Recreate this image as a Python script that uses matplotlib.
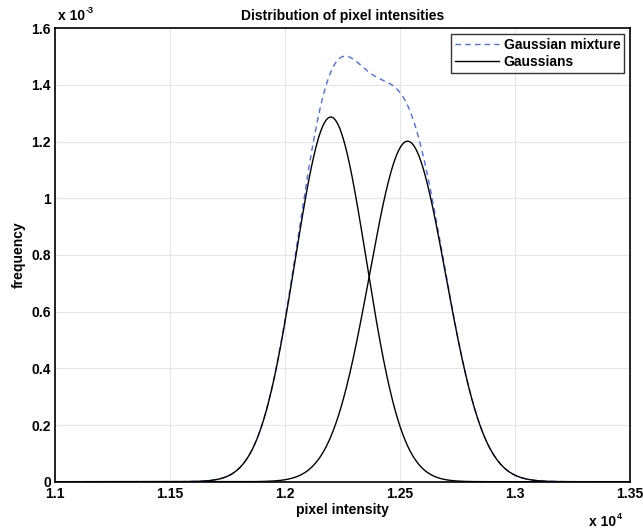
"""Distribution of pixel intensities: two-component Gaussian mixture."""

import numpy as np
import matplotlib
matplotlib.use("Agg")
import matplotlib.pyplot as plt

# mixture components (pixel-intensity units)
comp_means = [12199.0, 12533.0]
comp_sigmas = [155.0, 166.0]
comp_weights = [0.5, 0.5]

x_ticks = [1.1, 1.15, 1.2, 1.25, 1.3, 1.35]
y_ticks = [0, 0.2, 0.4, 0.6, 0.8, 1.0, 1.2, 1.4, 1.6]
x_labels = ["1.1", "1.15", "1.2", "1.25", "1.3", "1.35"]
y_labels = ["0", "0.2", "0.4", "0.6", "0.8", "1", "1.2", "1.4", "1.6"]

plt.rcParams["font.family"] = ["Liberation Sans", "DejaVu Sans"]
plt.rcParams["font.weight"] = "bold"

xs = np.linspace(11000, 13500, 1200)
comps = [w / (s * np.sqrt(2 * np.pi)) * np.exp(-0.5 * ((xs - m) / s) ** 2)
         for m, s, w in zip(comp_means, comp_sigmas, comp_weights)]
mix = sum(comps)

fig = plt.figure(figsize=(6.43, 5.31), dpi=100)
ax = fig.add_axes([55 / 643, 1 - 481.7 / 531, 575 / 643, 453.4 / 531])

ax.plot(xs / 1e4, mix * 1e3, color="#4a6cff", ls=(0, (4, 3)), lw=1.0, label="Gaussian mixture")
for i, c in enumerate(comps):
    ax.plot(xs / 1e4, c * 1e3, color="black", lw=1.0, label="Gaussians" if i == 0 else None)

ax.set_xlim(1.1, 1.35)
ax.set_ylim(0, 1.6)
ax.set_xticks(x_ticks)
ax.set_xticklabels(x_labels)
ax.set_yticks(y_ticks)
ax.set_yticklabels(y_labels)
ax.tick_params(direction="in", length=0, labelsize=10, pad=3)
ax.tick_params(axis="x", pad=4)
ax.grid(True, color="#e6e6e6", lw=0.8)
ax.set_axisbelow(True)
for sp in ax.spines.values():
    sp.set_linewidth(1.2)
    sp.set_color("black")

ax.set_title("Distribution of pixel intensities", fontsize=10, fontweight="bold", pad=6)
ax.set_xlabel("pixel intensity", fontsize=10, fontweight="bold", labelpad=1)
ax.set_ylabel("frequency", fontsize=10, fontweight="bold", labelpad=4)

# exponent labels, MATLAB style
t = ax.annotate("x 10", xy=(0.0, 1.0), xycoords="axes fraction", xytext=(2, 4),
                textcoords="offset points", fontsize=10, fontweight="bold",
                ha="left", va="bottom")
ax.annotate("-3", xy=(1.0, 0.55), xycoords=t, xytext=(0.5, 0), textcoords="offset points",
            fontsize=6.5, fontweight="bold", ha="left", va="bottom")
t2 = ax.annotate("x 10", xy=(1.0, 0.0), xycoords="axes fraction", xytext=(-10, -24),
                 textcoords="offset points", fontsize=10, fontweight="bold",
                 ha="right", va="top")
ax.annotate("4", xy=(1.0, 0.55), xycoords=t2, xytext=(0.5, 0), textcoords="offset points",
            fontsize=6.5, fontweight="bold", ha="left", va="bottom")

leg = ax.legend(loc="upper right", fontsize=10, frameon=True, fancybox=False,
                edgecolor="black", handlelength=3.2, handletextpad=0.3,
                borderpad=0.3, labelspacing=0.2, borderaxespad=0.4)
leg.get_frame().set_linewidth(1.0)

fig.savefig("out.png", dpi=100)
